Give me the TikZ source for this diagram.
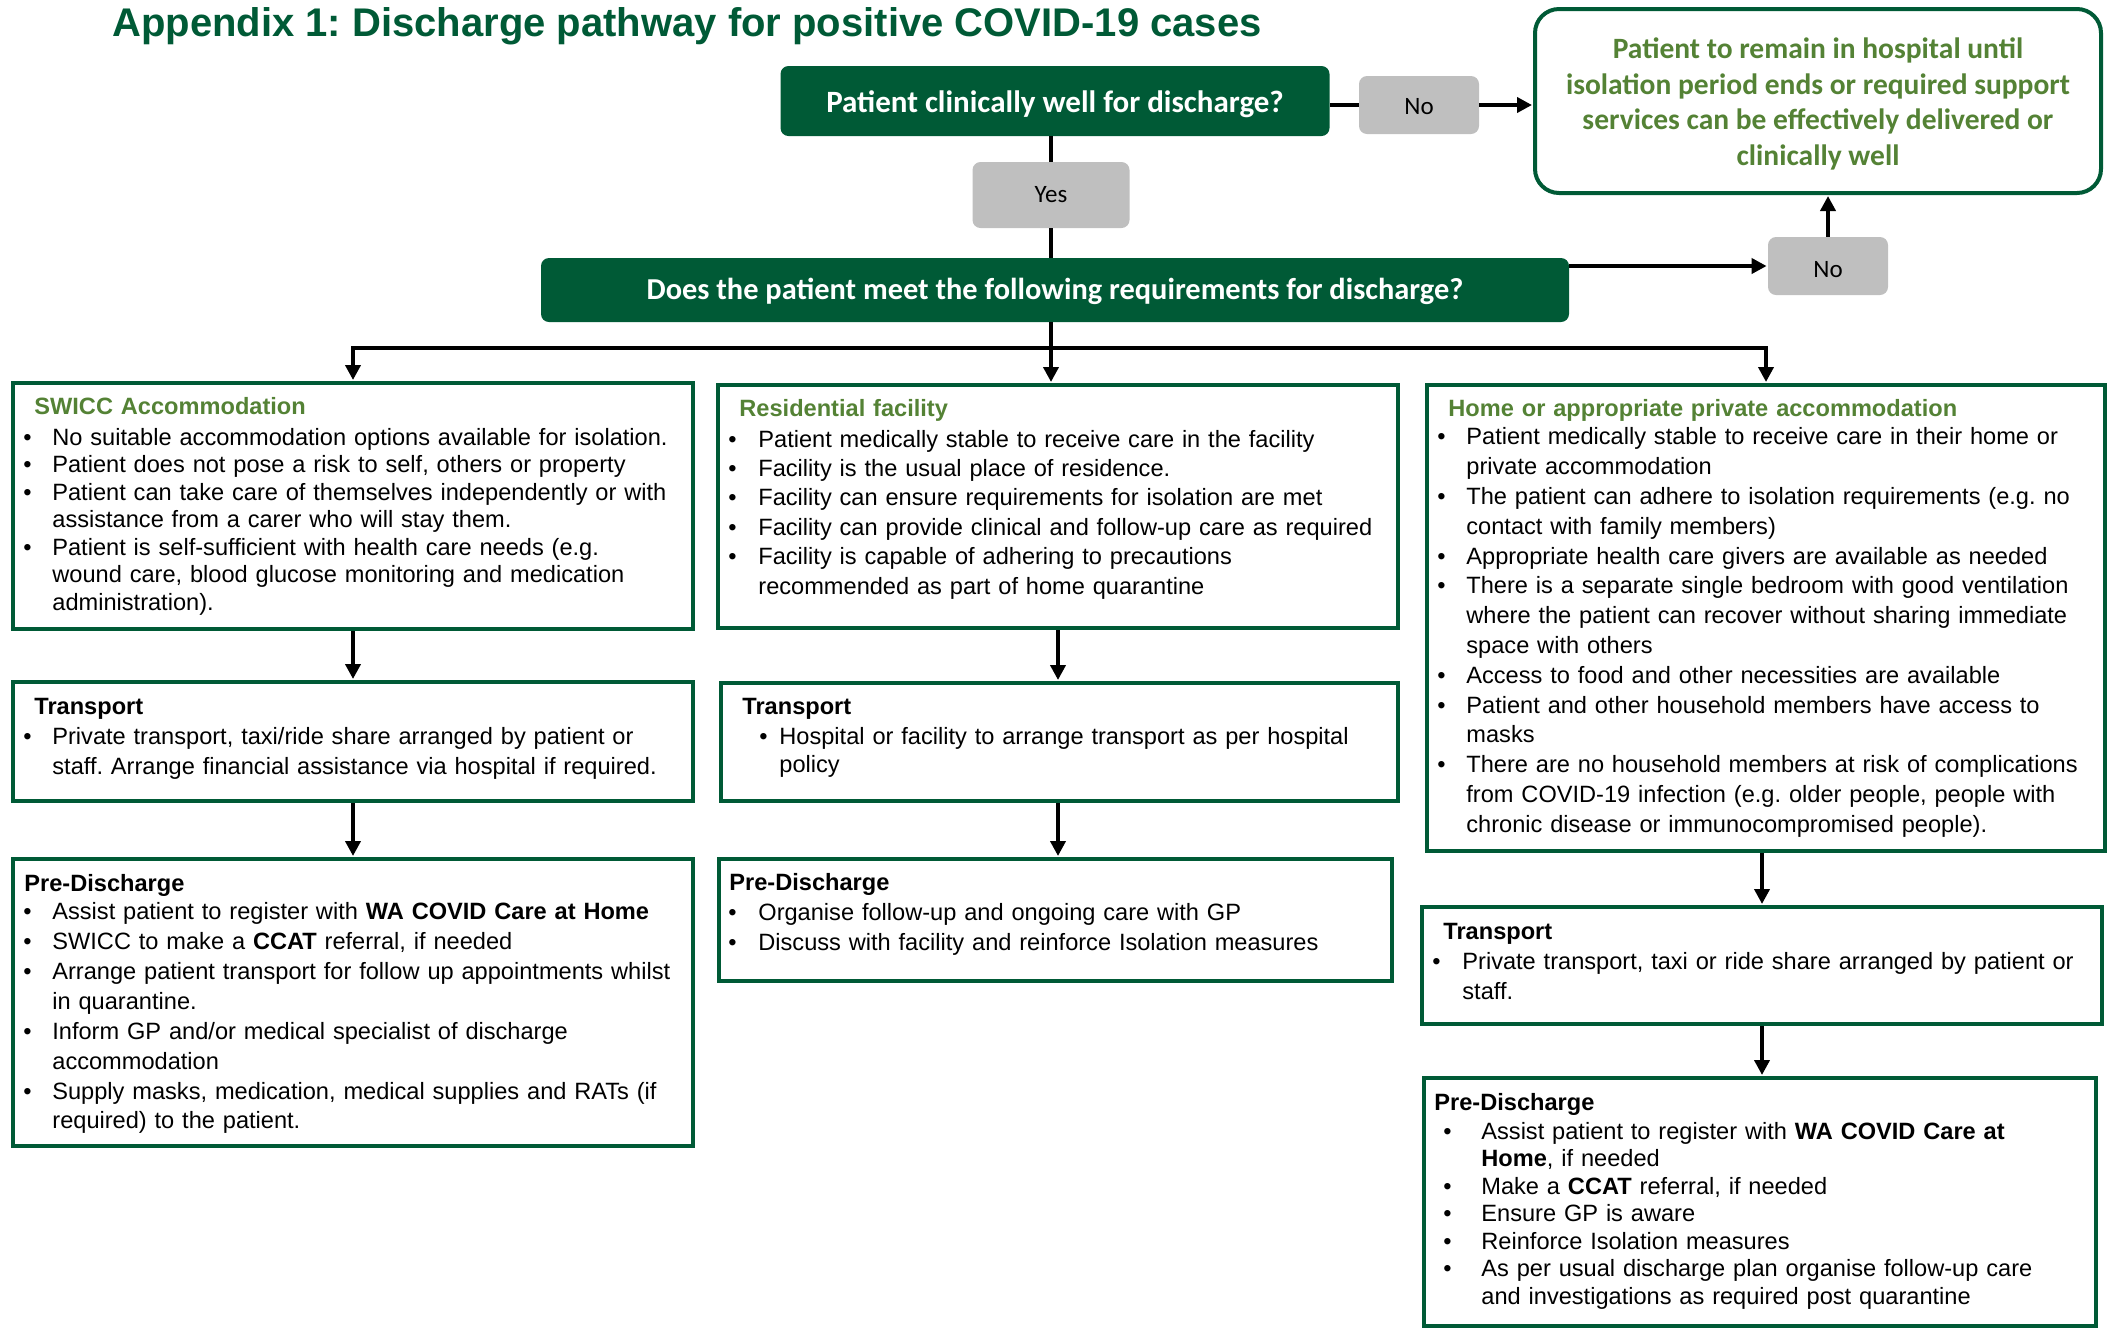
\documentclass[tikz,border=0pt]{standalone}
\usepackage{fontspec}
\setmainfont{Liberation Sans}
\newfontfamily\calib{Carlito}
\usetikzlibrary{arrows.meta}
\definecolor{dkgreen}{RGB}{0,90,54}
\definecolor{hgreen}{RGB}{84,130,53}
\definecolor{lgray}{RGB}{191,191,191}
\frenchspacing
\newcommand\bi[2]{\par\hangindent=#2\hangafter=1\noindent\hbox to #2{\hskip#1\textbullet\hfil}\ignorespaces}
\newcommand\hd[2]{\noindent\hspace*{#1}\textbf{#2}\par}
\begin{document}
\begin{tikzpicture}[x=0.5pt,y=-0.5pt,
  conn/.style={line width=2pt, black},
  arr/.style={conn, -{Triangle[length=7.5pt,width=7.5pt]}, shorten >=0.5pt},
  darkbox/.style={rectangle, rounded corners=4pt, fill=dkgreen, inner sep=0},
  darktext/.style={inner sep=0, text=white, font=\calib\bfseries\fontsize{#1}{17pt}\selectfont},
  graybox/.style={rectangle, rounded corners=4pt, fill=lgray, font=\calib\fontsize{12.5pt}{15pt}\selectfont, inner sep=0},
  hospbox/.style={rectangle, rounded corners=12pt, draw=dkgreen, line width=2pt, fill=white, inner sep=0},
  hosptext/.style={inner sep=0, text=hgreen, align=center, font=\calib\bfseries\fontsize{14.75pt}{17.85pt}\selectfont},
  content/.style={rectangle, draw=dkgreen, line width=2pt, inner sep=0},
  txt/.style={anchor=base west, inner sep=0, align=left},
  titlestyle/.style={anchor=base west, inner sep=0, text=dkgreen, font=\bfseries\fontsize{20pt}{24pt}\selectfont}
]
\useasboundingbox (0,0) rectangle (2113,1329);

\node[titlestyle] (title) at (112,36) {Appendix 1: Discharge pathway for positive COVID-19 cases};

% top decision nodes
\node[darkbox, minimum width=274.5pt, minimum height=35pt] (q1) at (1055,101) {};
\node[darktext=15.5pt] (q1t) at (1055,104) {Patient clinically well for discharge?};
\node[graybox, minimum width=60pt, minimum height=29pt, text height=9.4pt, text depth=0pt] (no1) at (1419,105) {No};
\node[hospbox, minimum width=283pt, minimum height=92pt] (hosp) at (1818,101) {};
\node[hosptext] (hospt) at (1818,104) {Patient to remain in hospital until\\isolation period ends or required support\\services can be effectively delivered or\\clinically well};
\node[graybox, minimum width=78.5pt, minimum height=33pt] (yes) at (1051,195) {Yes};
\node[darkbox, minimum width=514pt, minimum height=32pt] (q2) at (1055,290) {};
\node[darktext=15.2pt] (q2t) at (1055,291) {Does the patient meet the following requirements for discharge?};
\node[graybox, minimum width=60pt, minimum height=29pt, text height=11.5pt, text depth=0pt] (no2) at (1828,266) {No};

% content boxes
\node[content, minimum width=340pt, minimum height=123pt] (c1) at (353,506) {};
\node[content, minimum width=340pt, minimum height=121.5pt] (c2) at (1058,506.5) {};
\node[content, minimum width=339pt, minimum height=233pt] (c3) at (1766,618) {};
\node[content, minimum width=340pt, minimum height=59.5pt] (t1) at (353,741.5) {};
\node[content, minimum width=338.5pt, minimum height=59pt] (t2) at (1059.5,742) {};
\node[content, minimum width=340pt, minimum height=143.5pt] (p1) at (353,1002.5) {};
\node[content, minimum width=336.5pt, minimum height=61pt] (p2) at (1055.5,920) {};
\node[content, minimum width=340pt, minimum height=58.5pt] (t3) at (1762,965.5) {};
\node[content, minimum width=336pt, minimum height=124pt] (p3) at (1760,1202) {};

% texts
\node[txt, text width=342pt, font=\fontsize{11.8pt}{13.75pt}\selectfont] (c1t) at (11,414) {\hd{11.5pt}{\color{hgreen}SWICC Accommodation}\vspace{1.75pt}%
\bi{6pt}{20.5pt}No suitable accommodation options available for isolation.
\bi{6pt}{20.5pt}Patient does not pose a risk to self, others or property
\bi{6pt}{20.5pt}Patient can take care of themselves independently or with\newline assistance from a carer who will stay them.
\bi{6pt}{20.5pt}Patient is self-sufficient with health care needs (e.g.\newline wound care, blood glucose monitoring and medication\newline administration).\par};

\node[txt, text width=342pt, font=\fontsize{11.8pt}{14.7pt}\selectfont] (c2t) at (717,416) {\hd{11pt}{\color{hgreen}Residential facility}\vspace{0.8pt}%
\bi{5.5pt}{20.5pt}Patient medically stable to receive care in the facility
\bi{5.5pt}{20.5pt}Facility is the usual place of residence.
\bi{5.5pt}{20.5pt}Facility can ensure requirements for isolation are met
\bi{5.5pt}{20.5pt}Facility can provide clinical and follow-up care as required
\bi{5.5pt}{20.5pt}Facility is capable of adhering to precautions\newline recommended as part of home quarantine\par};

\node[txt, text width=341pt, font=\fontsize{11.8pt}{14.9pt}\selectfont] (c3t) at (1426,416) {\hd{11pt}{\color{hgreen}Home or appropriate private accommodation}\vspace{-0.5pt}%
\bi{5.5pt}{20pt}Patient medically stable to receive care in their home or\newline private accommodation
\bi{5.5pt}{20pt}The patient can adhere to isolation requirements (e.g. no\newline contact with family members)
\bi{5.5pt}{20pt}Appropriate health care givers are available as needed
\bi{5.5pt}{20pt}There is a separate single bedroom with good ventilation\newline where the patient can recover without sharing immediate\newline space with others
\bi{5.5pt}{20pt}Access to food and other necessities are available
\bi{5.5pt}{20pt}Patient and other household members have access to\newline masks
\bi{5.5pt}{20pt}There are no household members at risk of complications\newline from COVID-19 infection (e.g. older people, people with\newline chronic disease or immunocompromised people).\par};

\node[txt, text width=342pt, font=\fontsize{11.8pt}{15pt}\selectfont] (t1t) at (11,714) {\hd{11.5pt}{Transport}%
\bi{6pt}{20.5pt}Private transport, taxi/ride share arranged by patient or\newline staff. Arrange financial assistance via hospital if required.\par};

\node[txt, text width=340pt, font=\fontsize{11.8pt}{14pt}\selectfont] (t2t) at (720,714) {\hd{11pt}{Transport}\vspace{1pt}%
\bi{19.5pt}{29.5pt}Hospital or facility to arrange transport as per hospital\newline policy\par};

\node[txt, text width=342pt, font=\fontsize{11.8pt}{14.93pt}\selectfont] (p1t) at (11,891) {\hd{6.5pt}{Pre-Discharge}\vspace{-0.5pt}%
\bi{6pt}{20.5pt}Assist patient to register with \textbf{WA COVID Care at Home}
\bi{6pt}{20.5pt}SWICC to make a \textbf{CCAT} referral, if needed
\bi{6pt}{20.5pt}Arrange patient transport for follow up appointments whilst\newline in quarantine.
\bi{6pt}{20.5pt}Inform GP and/or medical specialist of discharge\newline accommodation
\bi{6pt}{20.5pt}Supply masks, medication, medical supplies and RATs (if\newline required) to the patient.\par};

\node[txt, text width=338pt, font=\fontsize{11.8pt}{15pt}\selectfont] (p2t) at (717,890) {\hd{6pt}{Pre-Discharge}%
\bi{5.5pt}{20.5pt}Organise follow-up and ongoing care with GP
\bi{5.5pt}{20.5pt}Discuss with facility and reinforce Isolation measures\par};

\node[txt, text width=342pt, font=\fontsize{11.8pt}{15pt}\selectfont] (t3t) at (1422,939) {\hd{10.5pt}{Transport}%
\bi{5pt}{20pt}Private transport, taxi or ride share arranged by patient or\newline staff.\par};

\node[txt, text width=338pt, font=\fontsize{11.8pt}{13.75pt}\selectfont] (p3t) at (1422,1110) {\hd{6pt}{Pre-Discharge}\vspace{0.75pt}%
\bi{10.5pt}{29.5pt}Assist patient to register with \textbf{WA COVID Care at}\newline \textbf{Home}, if needed
\bi{10.5pt}{29.5pt}Make a \textbf{CCAT} referral, if needed
\bi{10.5pt}{29.5pt}Ensure GP is aware
\bi{10.5pt}{29.5pt}Reinforce Isolation measures
\bi{10.5pt}{29.5pt}As per usual discharge plan organise follow-up care\newline and investigations as required post quarantine\par};

% connectors
\draw[conn] (q1.east |- no1.west) -- (no1.west);
\draw[arr] (no1.east) -- (no1.east -| hosp.west);
\draw[conn] (yes.north |- q1.south) -- (yes.north);
\draw[conn] (yes.south) -- (yes.south |- q2.north);
\draw[arr] (q2.east |- no2.west) -- (no2.west);
\draw[arr] (no2.north) -- (no2.north |- hosp.south);
\coordinate (j) at (1051,348);
\draw[conn] (yes.south |- q2.south) -- (j);
\draw[arr] (j) -| (c1.north);
\draw[arr] (j) -- (j |- c2.north);
\draw[arr] (j) -| (c3.north);
\draw[arr] (c1.south) -- (t1.north);
\draw[arr] (t1.south) -- (p1.north);
\draw[arr] (c2.south) -- (c2.south |- t2.north);
\draw[arr] (c2.south |- t2.south) -- (c2.south |- p2.north);
\draw[arr] (t3.north |- c3.south) -- (t3.north);
\draw[arr] (t3.south) -- (t3.south |- p3.north);
\end{tikzpicture}
\end{document}
